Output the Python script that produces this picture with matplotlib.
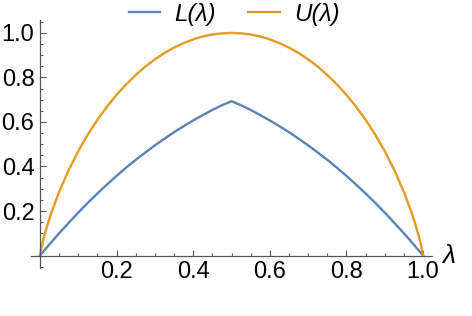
import matplotlib
matplotlib.use("Agg")
from matplotlib import pyplot as plt
from matplotlib.ticker import MultipleLocator, FixedLocator

# lower bound L(lambda)
lam_L = [0.0, 0.025, 0.05, 0.075, 0.1, 0.125, 0.15, 0.175, 0.2, 0.225, 0.25,
         0.275, 0.3, 0.325, 0.35, 0.375, 0.4, 0.425, 0.45, 0.475, 0.5,
         0.525, 0.55, 0.575, 0.6, 0.625, 0.65, 0.675, 0.7, 0.725, 0.75,
         0.775, 0.8, 0.825, 0.85, 0.875, 0.9, 0.925, 0.95, 0.975, 1.0]
L_vals = [0.0, 0.051, 0.100, 0.147, 0.193, 0.237, 0.279, 0.319, 0.358, 0.395, 0.430,
          0.463, 0.495, 0.525, 0.554, 0.581, 0.607, 0.631, 0.654, 0.675, 0.693,
          0.675, 0.654, 0.631, 0.607, 0.581, 0.554, 0.525, 0.495, 0.463, 0.430,
          0.395, 0.358, 0.319, 0.279, 0.237, 0.193, 0.147, 0.100, 0.051, 0.0]

# upper bound U(lambda)
lam_U = [0.0, 0.005, 0.01, 0.02, 0.03, 0.05, 0.075, 0.1, 0.125, 0.15, 0.175, 0.2,
         0.225, 0.25, 0.275, 0.3, 0.325, 0.35, 0.375, 0.4, 0.425, 0.45, 0.475, 0.5,
         0.525, 0.55, 0.575, 0.6, 0.625, 0.65, 0.675, 0.7, 0.725, 0.75, 0.775, 0.8,
         0.825, 0.85, 0.875, 0.9, 0.925, 0.95, 0.97, 0.98, 0.99, 0.995, 1.0]
U_vals = [0.0, 0.045, 0.081, 0.141, 0.194, 0.286, 0.384, 0.469, 0.544, 0.610, 0.669, 0.722,
          0.769, 0.811, 0.849, 0.881, 0.910, 0.934, 0.954, 0.971, 0.984, 0.993, 0.998, 1.0,
          0.998, 0.993, 0.984, 0.971, 0.954, 0.934, 0.910, 0.881, 0.849, 0.811, 0.769, 0.722,
          0.669, 0.610, 0.544, 0.469, 0.384, 0.286, 0.194, 0.141, 0.081, 0.045, 0.0]

x_ticks = [0.2, 0.4, 0.6, 0.8, 1.0]
y_ticks = [0.2, 0.4, 0.6, 0.8, 1.0]

BLUE = "#5E81B5"
ORANGE = "#E19C24"
AXIS = "#555555"

plt.rcParams["font.family"] = ["Liberation Sans", "DejaVu Sans"]

fig = plt.figure(figsize=(4.72, 3.16), dpi=100)
ax = fig.add_axes([31 / 472, 48 / 316, 401 / 472, 248 / 316])

ax.plot(lam_L, L_vals, color=BLUE, lw=1.7, label="L(λ)")
ax.plot(lam_U, U_vals, color=ORANGE, lw=1.7, label="U(λ)")

ax.set_xlim(-0.0235, 1.0235)
ax.set_ylim(-0.056, 1.058)

for s in ["top", "right"]:
    ax.spines[s].set_visible(False)
ax.spines["left"].set_position(("data", 0))
ax.spines["bottom"].set_position(("data", 0))
for s in ["left", "bottom"]:
    ax.spines[s].set_color(AXIS)
    ax.spines[s].set_linewidth(0.9)

ax.xaxis.set_major_locator(FixedLocator(x_ticks))
ax.yaxis.set_major_locator(FixedLocator(y_ticks))
ax.xaxis.set_minor_locator(MultipleLocator(0.05))
ax.yaxis.set_minor_locator(MultipleLocator(0.05))
ax.set_xticklabels([f"{t:.1f}" for t in x_ticks])
ax.set_yticklabels([f"{t:.1f}" for t in y_ticks])
ax.tick_params(which="both", direction="in", color=AXIS, labelsize=17, width=0.8)
ax.tick_params(which="major", length=4.5, pad=4)
ax.tick_params(which="minor", length=2.5)

ax.text(1.05, 0.0, "λ", fontsize=19, style="italic", ha="left", va="center",
        transform=ax.transData)

fig.legend(loc="center", bbox_to_anchor=(0.496, 0.955), ncol=2, frameon=False,
           handlelength=1.3, columnspacing=1.3, handletextpad=0.6,
           prop={"style": "italic", "size": 17.5})

fig.savefig("out.png", dpi=100)
